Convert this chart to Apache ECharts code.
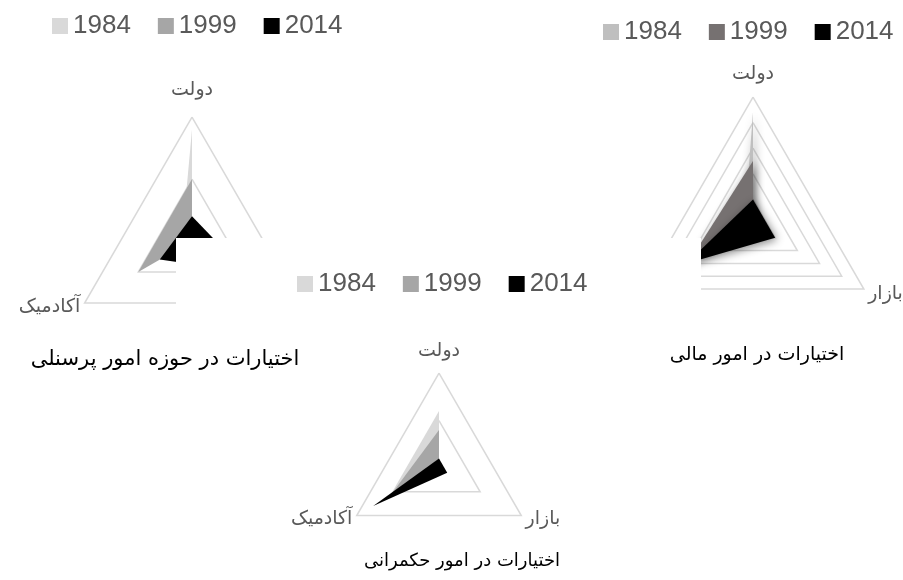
<!DOCTYPE html>
<html>
<head>
<meta charset="utf-8">
<script src="https://cdn.jsdelivr.net/npm/echarts@6/dist/echarts.min.js"></script>
<style>html,body{margin:0;padding:0;background:#fff;}#c{width:903px;height:580px;}</style>
</head>
<body>
<div id="c"></div>
<script>
// Indicator order (ECharts counter-clockwise from top): state, academic, market
const indicators = ['دولت', 'آکادمیک', 'بازار'];
const years = ['1984', '1999', '2014'];

// Personnel affairs (top-left)
const personnel1984 = [90, 10, 0];
const personnel1999 = [50, 50, 0];
const personnel2014 = [20, 30, 50];
// Financial affairs (top-right)
const finance1984 = [88, 8, 0];
const finance1999 = [50, 58, 0];
const finance2014 = [20, 60, 20];
// Governance affairs (middle)
const governance1984 = [60, 60, 0];
const governance1999 = [40, 60, 0];
const governance2014 = [10, 80, 10];

const titles = ['اختیارات در حوزه امور پرسنلی', 'اختیارات در امور مالی', 'اختیارات در امور حکمرانی'];

const greyColors = ['#d9d9d9', '#a6a6a6', '#000000'];
const darkColors = ['#bfbfbf', '#767171', '#000000'];

const labelFont = 'DejaVu Sans';
function makeRadar(center, radius, split, z, topPad, sidePad) {
  return {
    center: center, radius: radius, startAngle: 90, shape: 'polygon', splitNumber: split, z: z,
    axisNameGap: 5,
    indicator: indicators.map(n => ({ name: n, min: 0, max: 100 })),
    axisName: {
      color: '#595959', fontSize: 19, fontFamily: labelFont,
      formatter: (name) => name === indicators[0] ? '{t|' + name + '}' : '{s|' + name + '}',
      rich: {
        t: { padding: [0, 0, topPad, 0], fontSize: 19, color: '#595959', fontFamily: labelFont },
        s: { padding: [sidePad, 0, 0, 0], fontSize: 19, color: '#595959', fontFamily: labelFont }
      }
    },
    splitLine: { lineStyle: { color: '#d9d9d9', width: 1.5 } },
    splitArea: { show: false },
    axisLine: { show: false },
    axisTick: { show: false },
    axisLabel: { show: false }
  };
}

function makeSeries(radarIndex, arrays, colors, z, shadow) {
  return {
    type: 'radar', radarIndex: radarIndex, z: z, symbol: 'none', silent: true,
    data: arrays.map((v, i) => ({
      name: years[i], value: v,
      lineStyle: { width: 0, opacity: 0 },
      itemStyle: { color: colors[i] },
      areaStyle: Object.assign({ color: colors[i], opacity: 1 },
        shadow ? { shadowBlur: 8, shadowColor: 'rgba(0,0,0,0.45)', shadowOffsetX: 2, shadowOffsetY: 2 } : {})
    }))
  };
}

function makeLegend(left, top, colors, z) {
  return {
    left: left, top: top, z: z, padding: 0, icon: 'rect', itemWidth: 16, itemHeight: 16, itemGap: 27,
    selectedMode: false,
    textStyle: { fontSize: 26, color: '#595959', fontFamily: 'Liberation Sans' },
    data: years.map((y, i) => ({ name: y, itemStyle: { color: colors[i] } }))
  };
}

const chart = echarts.init(document.getElementById('c'), null, { renderer: 'canvas' });
chart.setOption({
  animation: false,
  backgroundColor: '#ffffff',
  radar: [
    makeRadar([192, 241], 124, 2, 1, 12, 4),
    makeRadar([753, 225], 128, 5, 1, 8, 6),
    makeRadar([439, 468], 95, 2, 8, 7, 2)
  ],
  legend: [
    makeLegend(52, 13, greyColors, 10),
    makeLegend(603, 19, darkColors, 10),
    makeLegend(297, 271, greyColors, 10)
  ],
  series: [
    makeSeries(0, [personnel1984, personnel1999, personnel2014], greyColors, 2, false),
    makeSeries(1, [finance1984, finance1999, finance2014], darkColors, 2, true),
    makeSeries(2, [governance1984, governance1999, governance2014], greyColors, 9, false)
  ],
  graphic: {
    elements: [
      { type: 'rect', z: 5, silent: true, shape: { x: 176, y: 238, width: 525, height: 342 }, style: { fill: '#ffffff' } },
      { type: 'text', z: 30, x: 165, y: 360, style: { text: titles[0], fill: '#000', font: '21px "DejaVu Sans"', align: 'center', verticalAlign: 'middle' } },
      { type: 'text', z: 30, x: 757, y: 355, style: { text: titles[1], fill: '#000', font: '19px "DejaVu Sans"', align: 'center', verticalAlign: 'middle' } },
      { type: 'text', z: 30, x: 462, y: 561, style: { text: titles[2], fill: '#000', font: '18px "DejaVu Sans"', align: 'center', verticalAlign: 'middle' } }
    ]
  }
});
</script>
</body>
</html>
